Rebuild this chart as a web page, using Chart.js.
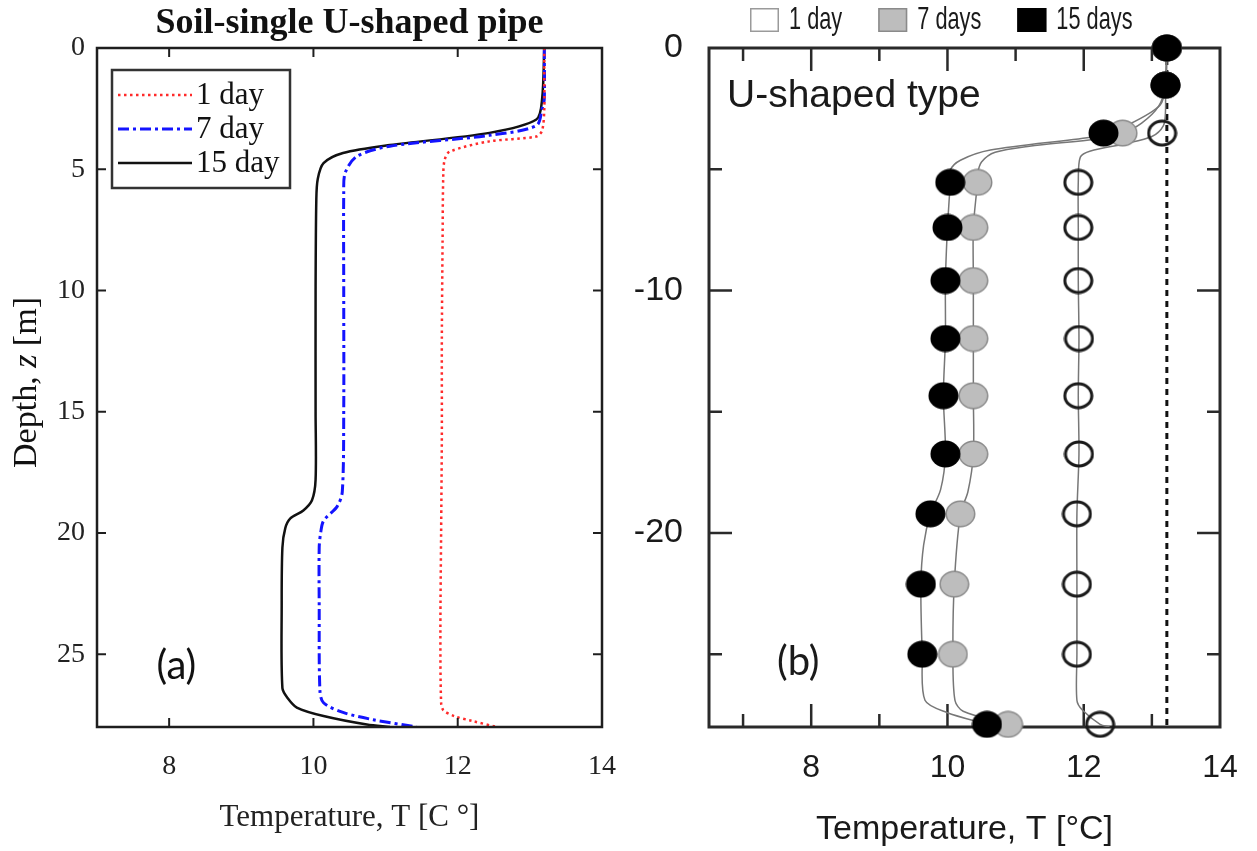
<!DOCTYPE html>
<html>
<head>
<meta charset="utf-8">
<script src="https://cdn.jsdelivr.net/npm/chart.js@4.4.1/dist/chart.umd.min.js"></script>
<style>
  body { margin: 0; background: #fff; width: 1257px; height: 851px; position: relative; overflow: hidden; }
  .panel { position: absolute; top: 0; }
  #wrapA { left: 0; }
  #wrapB { left: 620px; }
</style>
</head>
<body>
<div class="panel" id="wrapA"><canvas id="chartA" width="620" height="851"></canvas></div>
<div class="panel" id="wrapB"><canvas id="chartB" width="637" height="851"></canvas></div>
<script>
// ===== (a) simulated profiles: temperature [C] vs depth [m] =====
const depthDay1 = [0, 1.0, 2.5, 3.4, 3.65, 3.85, 4.27, 4.6, 5.2, 8, 12, 16, 20, 24, 27.0, 27.3, 27.55, 27.75, 28];
const tempDay1  = [13.2, 13.2, 13.2, 13.17, 13.09, 12.44, 11.89, 11.82, 11.8, 11.79, 11.78, 11.78, 11.77, 11.76, 11.77, 11.8, 11.95, 12.2, 12.54];

const depthDay7 = [0, 2.1, 2.5, 3.2, 3.6, 4.05, 4.47, 5.15, 6.0, 10, 15, 18.3, 18.9, 19.5, 20.0, 20.6, 23, 26.5, 27.0, 27.4, 27.7, 28];
const tempDay7  = [13.2, 13.2, 13.17, 13.09, 12.44, 11.06, 10.6, 10.44, 10.42, 10.42, 10.42, 10.4, 10.33, 10.14, 10.1, 10.08, 10.08, 10.09, 10.14, 10.41, 10.83, 11.43];

const depthDay15 = [0, 2.1, 2.95, 3.5, 4.0, 4.33, 4.75, 5.4, 6.25, 10, 15, 17.8, 18.65, 19.07, 19.4, 19.8, 20.6, 23, 26.4, 26.8, 27.2, 27.55, 27.9, 28];
const tempDay15  = [13.2, 13.17, 13.09, 12.44, 11.06, 10.41, 10.14, 10.06, 10.04, 10.03, 10.03, 10.03, 9.98, 9.86, 9.68, 9.61, 9.57, 9.56, 9.57, 9.64, 9.77, 10.14, 10.74, 11.06];

const tempTicksA  = [8, 10, 12, 14];
const depthTicksA = [0, 5, 10, 15, 20, 25];

// ===== (b) measured points (markers) and fitted curves =====
const markerDepth   = [0, -1.53, -3.51, -5.54, -7.40, -9.59, -11.98, -14.34, -16.74, -19.21, -22.11, -25.0, -27.89];
const marker1Day    = [13.22, 13.2, 13.15, 11.92, 11.92, 11.92, 11.93, 11.92, 11.93, 11.9, 11.9, 11.9, 12.24];
const marker7Days   = [13.22, 13.2, 12.57, 10.44, 10.38, 10.38, 10.38, 10.38, 10.38, 10.19, 10.1, 10.08, 10.89];
const marker15Days  = [13.22, 13.2, 12.29, 10.04, 10.0, 9.97, 9.97, 9.94, 9.97, 9.75, 9.61, 9.63, 10.58];

const curveDepth1 = [0, -1.53, -2.6, -3.2, -3.65, -3.95, -4.25, -4.5, -5.54, -7.4, -9.59, -11.98, -14.34, -16.74, -19.21, -22.11, -25.0, -26.9, -27.3, -27.89, -28];
const curve1Day   = [13.22, 13.2, 13.2, 13.17, 13.0, 12.6, 12.1, 11.95, 11.92, 11.92, 11.92, 11.93, 11.92, 11.93, 11.9, 11.9, 11.9, 11.9, 11.98, 12.24, 12.38];

const curveDepth7 = [0, -1.53, -2.4, -3.1, -3.51, -3.75, -4.05, -4.3, -4.7, -5.2, -5.54, -7.4, -9.59, -11.98, -14.34, -16.74, -18.3, -19.21, -22.11, -25.0, -26.9, -27.35, -27.89];
const curve7Days  = [13.22, 13.2, 13.1, 12.85, 12.57, 12.2, 11.2, 10.7, 10.5, 10.44, 10.44, 10.38, 10.38, 10.38, 10.38, 10.38, 10.3, 10.19, 10.1, 10.08, 10.11, 10.23, 10.89];

const curveDepth15 = [0, -1.53, -2.36, -3.18, -3.51, -3.68, -4.21, -4.63, -5.04, -5.54, -7.4, -9.59, -11.98, -14.34, -16.74, -18.2, -19.21, -20.5, -22.11, -25.0, -26.9, -27.4, -27.89];
const curve15Days  = [13.22, 13.2, 13.12, 12.64, 12.29, 12.1, 10.63, 10.19, 10.04, 10.04, 10.0, 9.97, 9.97, 9.94, 9.97, 9.9, 9.75, 9.65, 9.61, 9.63, 9.67, 9.99, 10.58];

const groundTemp = 13.22;   // undisturbed ground temperature (dashed line)

const tempTicksB   = [8, 10, 12, 14];
const tempMinorB   = [7, 9, 11, 13];
const depthTicksB  = [0, -10, -20];
const depthMinorB  = [-5, -15, -25];

// ===== common =====
const serif = "'Liberation Serif', 'Times New Roman', serif";
const sans = "'Liberation Sans', Arial, sans-serif";
const tagFont = "Lato, 'Open Sans', sans-serif";
const ink = '#1e1e1e';

function toPoints(temps, depths) {
    return temps.map((t, i) => ({ x: t, y: depths[i] }));
}

function strokeSeg(ctx, x1, y1, x2, y2) {
    ctx.beginPath();
    ctx.moveTo(x1, y1);
    ctx.lineTo(x2, y2);
    ctx.stroke();
}

// inward tick marks on both sides of the box
function tickMarks(ctx, scale, area, values, len) {
    values.forEach(v => {
        const p = scale.getPixelForValue(v);
        if (scale.isHorizontal()) {
            strokeSeg(ctx, p, area.top, p, area.top + len);
            strokeSeg(ctx, p, area.bottom, p, area.bottom - len);
        } else {
            strokeSeg(ctx, area.left, p, area.left + len, p);
            strokeSeg(ctx, area.right, p, area.right - len, p);
        }
    });
}

function fixX(height) {
    return s => { s.height = height; s.paddingLeft = 0; s.paddingRight = 0; };
}
function fixY(width) {
    return s => { s.width = width; s.paddingTop = 0; s.paddingBottom = 0; };
}

// ===== panel (a) =====
const frameA = {
    id: 'frameA',
    afterDatasetsDraw(chart) {
        const { ctx, chartArea: a, scales: { x, y } } = chart;
        ctx.save();
        ctx.strokeStyle = ink;
        ctx.lineWidth = 2.5;
        ctx.strokeRect(a.left, a.top, a.right - a.left, a.bottom - a.top);
        ctx.lineWidth = 2;
        tickMarks(ctx, x, a, tempTicksA.filter(v => v < 14), 9);
        tickMarks(ctx, y, a, depthTicksA.filter(v => v > 0), 9);

        // legend box
        const lx = a.left + 15, ly = a.top + 22;
        ctx.fillStyle = '#fff';
        ctx.fillRect(lx, ly, 178, 118);
        ctx.lineWidth = 2.5;
        ctx.strokeStyle = '#333';
        ctx.strokeRect(lx, ly, 178, 118);
        ctx.font = `31px ${serif}`;
        ctx.textBaseline = 'middle';
        chart.data.datasets.forEach((ds, i) => {
            const yy = ly + 25 + i * 34;
            ctx.strokeStyle = ds.borderColor;
            ctx.lineWidth = ds.borderWidth;
            ctx.setLineDash(ds.borderDash || []);
            strokeSeg(ctx, lx + 6, yy, lx + 80, yy);
            ctx.setLineDash([]);
            ctx.fillStyle = '#111';
            ctx.fillText(ds.label, lx + 84, yy + 1);
        });

        // panel tag
        ctx.font = `40px ${tagFont}`;
        ctx.textAlign = 'center';
        ctx.fillStyle = '#111';
        ctx.fillText('(a)', x.getPixelForValue(8.1), y.getPixelForValue(25.5));

        // vertical axis title with italic z
        ctx.translate(27, (a.top + a.bottom) / 2 - 5);
        ctx.rotate(-Math.PI / 2);
        const parts = [['Depth, ', ''], ['z', 'italic '], [' [m]', '']];
        let total = 0;
        parts.forEach(p => { ctx.font = `${p[1]}34px ${serif}`; total += ctx.measureText(p[0]).width; });
        let cx = -total / 2;
        ctx.textAlign = 'left';
        parts.forEach(p => {
            ctx.font = `${p[1]}34px ${serif}`;
            ctx.fillText(p[0], cx, 0);
            cx += ctx.measureText(p[0]).width;
        });
        ctx.restore();
    }
};

const lineBase = { showLine: true, pointRadius: 0, tension: 0.3, borderCapStyle: 'butt' };

new Chart(document.getElementById('chartA'), {
    type: 'scatter',
    data: {
        datasets: [
            { ...lineBase, label: '1 day', data: toPoints(tempDay1, depthDay1),
              borderColor: '#ff2a2a', borderWidth: 2.5, borderDash: [2.5, 3.5] },
            { ...lineBase, label: '7 day', data: toPoints(tempDay7, depthDay7),
              borderColor: '#1414ff', borderWidth: 3, borderDash: [11, 4, 3, 4] },
            { ...lineBase, label: '15 day', data: toPoints(tempDay15, depthDay15),
              borderColor: '#111', borderWidth: 2.5 }
        ]
    },
    options: {
        responsive: false,
        animation: false,
        layout: { padding: { top: 0, right: 18, bottom: 0, left: 0 } },
        plugins: {
            legend: { display: false },
            tooltip: { enabled: false },
            title: {
                display: true,
                text: 'Soil-single U-shaped pipe',
                fullSize: false,
                color: '#111',
                font: { family: serif, size: 36, weight: 'bold', lineHeight: 1.1 },
                padding: { top: 4, bottom: 4.4 }
            }
        },
        scales: {
            x: {
                type: 'linear', min: 7, max: 14,
                afterBuildTicks: s => { s.ticks = tempTicksA.map(v => ({ value: v })); },
                afterFit: fixX(124),
                grid: { display: false, drawTicks: false },
                border: { display: false },
                ticks: { color: '#222', font: { family: serif, size: 28 }, padding: 23, maxRotation: 0 },
                title: {
                    display: true, text: 'Temperature, T [C \u00B0]', color: '#222',
                    font: { family: serif, size: 31 }, padding: { top: 0, bottom: 15 }
                }
            },
            y: {
                type: 'linear', min: 0, max: 28, reverse: true,
                afterBuildTicks: s => { s.ticks = depthTicksA.map(v => ({ value: v })); },
                afterFit: fixY(97),
                grid: { display: false, drawTicks: false },
                border: { display: false },
                ticks: { color: '#222', font: { family: serif, size: 28 }, padding: 12 }
            }
        }
    },
    plugins: [frameA]
});

// ===== panel (b) =====
function markerImage(fill, stroke, lw) {
    const c = document.createElement('canvas');
    c.width = 31;
    c.height = 28;
    const g = c.getContext('2d');
    g.beginPath();
    g.ellipse(15.5, 14, 15 - lw / 2, 13.5 - lw / 2, 0, 0, Math.PI * 2);
    if (fill) { g.fillStyle = fill; g.fill(); }
    if (stroke) { g.lineWidth = lw; g.strokeStyle = stroke; g.stroke(); }
    return c;
}

const openMark  = markerImage(null, '#1a1a1a', 3);
const greyMark  = markerImage('#bdbdbd', '#8a8a8a', 1.5);
const blackMark = markerImage('#000', null, 0);

const frameB = {
    id: 'frameB',
    beforeDatasetsDraw(chart) {
        const { ctx, chartArea: a, scales: { x, y } } = chart;
        ctx.save();
        ctx.strokeStyle = '#2a2a2a';
        ctx.lineWidth = 3;
        ctx.strokeRect(a.left, a.top, a.right - a.left, a.bottom - a.top);
        ctx.lineWidth = 2.5;
        tickMarks(ctx, x, a, tempTicksB.filter(v => v < 14), 23);
        tickMarks(ctx, x, a, tempMinorB, 13);
        tickMarks(ctx, y, a, depthTicksB.filter(v => v < 0), 23);
        tickMarks(ctx, y, a, depthMinorB, 13);

        ctx.fillStyle = '#1a1a1a';
        ctx.font = `39px ${sans}`;
        ctx.textBaseline = 'alphabetic';
        ctx.fillText('U-shaped type', a.left + 18, a.top + 59);

        ctx.font = `40px ${tagFont}`;
        ctx.textAlign = 'center';
        ctx.textBaseline = 'middle';
        ctx.fillText('(b)', x.getPixelForValue(7.81), y.getPixelForValue(-25.33));
        ctx.restore();
    },
    afterDraw(chart) {
        // legend row above the box, condensed lettering
        const { ctx } = chart;
        const items = chart.data.datasets.filter(ds => ds.legendFill);
        ctx.save();
        ctx.font = `32px ${sans}`;
        ctx.textBaseline = 'middle';
        let px = 130;
        const squeeze = 0.68;
        items.forEach(ds => {
            ctx.fillStyle = ds.legendFill;
            ctx.fillRect(px, 8, 29, 24);
            ctx.strokeStyle = ds.legendEdge;
            ctx.lineWidth = 1.5;
            ctx.strokeRect(px + 0.75, 8.75, 27.5, 22.5);
            const tx = px + 39;
            ctx.save();
            ctx.translate(tx, 20);
            ctx.scale(squeeze, 1);
            ctx.fillStyle = '#1a1a1a';
            ctx.fillText(ds.label, 0, 0);
            ctx.restore();
            px = tx + ctx.measureText(ds.label).width * squeeze + 36;
        });
        ctx.restore();
    }
};

const curveBase = { showLine: true, pointRadius: 0, tension: 0.3, borderColor: '#777', borderWidth: 1.5 };
const markBase = { showLine: false, pointRadius: 14, clip: false };

new Chart(document.getElementById('chartB'), {
    type: 'scatter',
    data: {
        datasets: [
            { label: 'initial', data: [{ x: groundTemp, y: 0 }, { x: groundTemp, y: -28 }],
              showLine: true, pointRadius: 0, borderColor: '#111', borderWidth: 3, borderDash: [6, 5], order: 20 },
            { ...curveBase, label: 'curve 1', data: toPoints(curve1Day, curveDepth1), order: 12 },
            { ...curveBase, label: 'curve 7', data: toPoints(curve7Days, curveDepth7), order: 11 },
            { ...curveBase, label: 'curve 15', data: toPoints(curve15Days, curveDepth15), order: 10 },
            { ...markBase, label: '1 day', data: toPoints(marker1Day, markerDepth), pointStyle: openMark,
              order: 3, legendFill: '#fff', legendEdge: '#9a9a9a' },
            { ...markBase, label: '7 days', data: toPoints(marker7Days, markerDepth), pointStyle: greyMark,
              order: 2, legendFill: '#bdbdbd', legendEdge: '#8a8a8a' },
            { ...markBase, label: '15 days', data: toPoints(marker15Days, markerDepth), pointStyle: blackMark,
              order: 1, legendFill: '#000', legendEdge: '#000' }
        ]
    },
    options: {
        responsive: false,
        animation: false,
        layout: { padding: { top: 48, right: 37, bottom: 0, left: 0 } },
        plugins: { legend: { display: false }, tooltip: { enabled: false } },
        scales: {
            x: {
                type: 'linear', min: 6.5, max: 14,
                afterBuildTicks: s => { s.ticks = tempTicksB.map(v => ({ value: v })); },
                afterFit: fixX(124),
                grid: { display: false, drawTicks: false },
                border: { display: false },
                ticks: { color: '#1a1a1a', font: { family: sans, size: 32 }, padding: 22, maxRotation: 0 },
                title: {
                    display: true, text: 'Temperature, T [\u00B0C]', color: '#1a1a1a',
                    font: { family: sans, size: 34 }, padding: { top: 0, bottom: 1 }
                }
            },
            y: {
                type: 'linear', min: -28, max: 0,
                afterBuildTicks: s => { s.ticks = depthTicksB.map(v => ({ value: v })); },
                afterFit: fixY(89),
                grid: { display: false, drawTicks: false },
                border: { display: false },
                ticks: { color: '#1a1a1a', font: { family: sans, size: 34 }, padding: 26 }
            }
        }
    },
    plugins: [frameB]
});
</script>
</body>
</html>
